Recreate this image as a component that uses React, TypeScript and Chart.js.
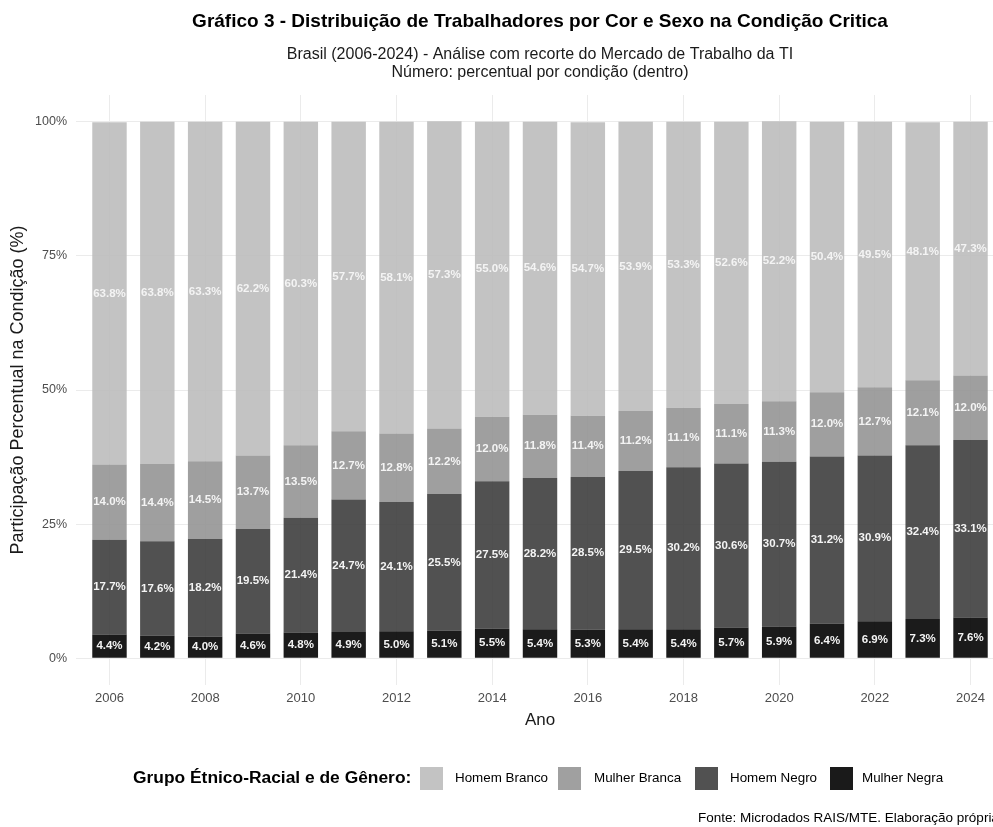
import React, { useEffect, useRef } from "react";
import { Chart, registerables } from "chart.js";

Chart.register(...registerables);

const years = [2006, 2007, 2008, 2009, 2010, 2011, 2012, 2013, 2014, 2015, 2016, 2017, 2018, 2019, 2020, 2021, 2022, 2023, 2024];
const tickYears = [2006, 2008, 2010, 2012, 2014, 2016, 2018, 2020, 2022, 2024];
const yTicks = [0, 25, 50, 75, 100];

const homemBranco = [63.8, 63.8, 63.3, 62.2, 60.3, 57.7, 58.1, 57.3, 55.0, 54.6, 54.7, 53.9, 53.3, 52.6, 52.2, 50.4, 49.5, 48.1, 47.3];
const mulherBranca = [14.0, 14.4, 14.5, 13.7, 13.5, 12.7, 12.8, 12.2, 12.0, 11.8, 11.4, 11.2, 11.1, 11.1, 11.3, 12.0, 12.7, 12.1, 12.0];
const homemNegro = [17.7, 17.6, 18.2, 19.5, 21.4, 24.7, 24.1, 25.5, 27.5, 28.2, 28.5, 29.5, 30.2, 30.6, 30.7, 31.2, 30.9, 32.4, 33.1];
const mulherNegra = [4.4, 4.2, 4.0, 4.6, 4.8, 4.9, 5.0, 5.1, 5.5, 5.4, 5.3, 5.4, 5.4, 5.7, 5.9, 6.4, 6.9, 7.3, 7.6];

const groupNames = ["Homem Branco", "Mulher Branca", "Homem Negro", "Mulher Negra"];
const groupColors = ["rgba(188,188,188,0.9)", "rgba(149,149,149,0.9)", "rgba(62,62,62,0.9)", "rgba(2,2,2,0.9)"];
const legendSwatch = ["#c3c3c3", "#a0a0a0", "#515151", "#1a1a1a"];

const TITLE = "Gráfico 3 - Distribuição de Trabalhadores por Cor e Sexo na Condição Critica";
const SUB1 = "Brasil (2006-2024) - Análise com recorte do Mercado de Trabalho da TI";
const SUB2 = "Número: percentual por condição (dentro)";
const Y_TITLE = "Participação Percentual na Condição (%)";
const X_TITLE = "Ano";
const LEGEND_TITLE = "Grupo Étnico-Racial e de Gênero:";
const CAPTION = "Fonte: Microdados RAIS/MTE. Elaboração própria";

const FONT = "'Liberation Sans', Arial, sans-serif";

const labelPlugin = {
  id: "segLabels",
  afterDatasetsDraw(chart: any) {
    const ctx = chart.ctx;
    ctx.save();
    ctx.font = `bold 11.5px ${FONT}`;
    ctx.fillStyle = "#f4f4f4";
    ctx.textAlign = "center";
    ctx.textBaseline = "middle";
    chart.data.datasets.forEach((ds: any, i: number) => {
      const meta = chart.getDatasetMeta(i);
      meta.data.forEach((bar: any, j: number) => {
        const p = bar.getProps(["x", "y", "base"], true);
        const v = ds.data[j].y;
        ctx.fillText(v.toFixed(1) + "%", p.x, (p.y + p.base) / 2);
      });
    });
    ctx.restore();
  },
};

const textPlugin = {
  id: "texts",
  afterDraw(chart: any) {
    const ctx = chart.ctx;
    const ca = chart.chartArea;
    const cx = (ca.left + ca.right) / 2;
    ctx.save();
    ctx.textBaseline = "middle";
    ctx.textAlign = "center";
    ctx.fillStyle = "#000";
    ctx.font = `bold 19px ${FONT}`;
    ctx.fillText(TITLE, cx, 22);
    ctx.fillStyle = "#1a1a1a";
    ctx.font = `16px ${FONT}`;
    ctx.fillText(SUB1, cx, 55);
    ctx.fillText(SUB2, cx, 73);

    ctx.font = `17px ${FONT}`;
    ctx.fillStyle = "#1a1a1a";
    ctx.fillText(X_TITLE, cx, 720);

    ctx.save();
    ctx.font = `18px ${FONT}`;
    ctx.translate(18, (ca.top + ca.bottom) / 2);
    ctx.rotate(-Math.PI / 2);
    ctx.fillText(Y_TITLE, 0, 0);
    ctx.restore();

    // legend
    ctx.textAlign = "left";
    ctx.font = `bold 17.4px ${FONT}`;
    ctx.fillStyle = "#000";
    ctx.fillText(LEGEND_TITLE, 133, 778);
    const swX = [420, 558, 695, 830];
    const txX = [455, 594, 730, 862];
    ctx.font = `13.4px ${FONT}`;
    groupNames.forEach((name, i) => {
      ctx.fillStyle = legendSwatch[i];
      ctx.fillRect(swX[i], 767, 23, 23);
      ctx.fillStyle = "#000";
      ctx.fillText(name, txX[i], 778);
    });

    ctx.font = `13.5px ${FONT}`;
    ctx.fillStyle = "#000";
    ctx.fillText(CAPTION, 698, 818);
    ctx.restore();
  },
};

export default function App() {
  const ref = useRef<HTMLCanvasElement | null>(null);

  useEffect(() => {
    if (!ref.current) return;
    const series = [mulherNegra, homemNegro, mulherBranca, homemBranco];
    const names = [groupNames[3], groupNames[2], groupNames[1], groupNames[0]];
    const colors = [groupColors[3], groupColors[2], groupColors[1], groupColors[0]];
    const chart = new Chart(ref.current, {
      type: "bar",
      data: {
        datasets: series.map((s, i) => ({
          label: names[i],
          data: years.map((yr, j) => ({ x: yr, y: s[j] })),
          backgroundColor: colors[i],
          borderWidth: 0,
          categoryPercentage: 1,
          barPercentage: 0.72,
        })),
      },
      options: {
        animation: false,
        responsive: false,
        devicePixelRatio: 1,
        layout: { padding: { top: 95, left: 0, right: 36, bottom: 0 } },
        plugins: { legend: { display: false }, tooltip: { enabled: false }, title: { display: false } },
        scales: {
          x: {
            type: "linear",
            stacked: true,
            offset: false,
            min: 2005.3,
            max: 2024.7,
            afterBuildTicks: (scale: any) => {
              scale.ticks = tickYears.map((v) => ({ value: v }));
            },
            afterFit: (scale: any) => {
              scale.height = 142;
            },
            border: { display: false },
            grid: { color: "#ebebeb", lineWidth: 1, drawTicks: false, offset: false },
            ticks: {
              padding: 6,
              color: "#4d4d4d",
              font: { family: FONT, size: 13 },
              callback: (v: any) => String(v),
              maxRotation: 0,
              autoSkip: false,
            },
          },
          y: {
            stacked: true,
            min: -5,
            max: 105,
            afterBuildTicks: (scale: any) => {
              scale.ticks = yTicks.map((v) => ({ value: v }));
            },
            afterFit: (scale: any) => {
              scale.width = 76;
            },
            border: { display: false },
            grid: { color: "#ebebeb", lineWidth: 1, drawTicks: false },
            ticks: {
              padding: 9,
              color: "#4d4d4d",
              font: { family: FONT, size: 12.5 },
              callback: (v: any) => v + "%",
            },
          },
        },
      },
      plugins: [labelPlugin, textPlugin],
    });
    return () => chart.destroy();
  }, []);

  return (
    <div style={{ position: "fixed", left: 0, top: 0, width: 993, height: 827, overflow: "hidden", background: "#fff" }}>
      <canvas ref={ref} width={1040} height={827} style={{ width: 1040, height: 827, display: "block" }} />
    </div>
  );
}
